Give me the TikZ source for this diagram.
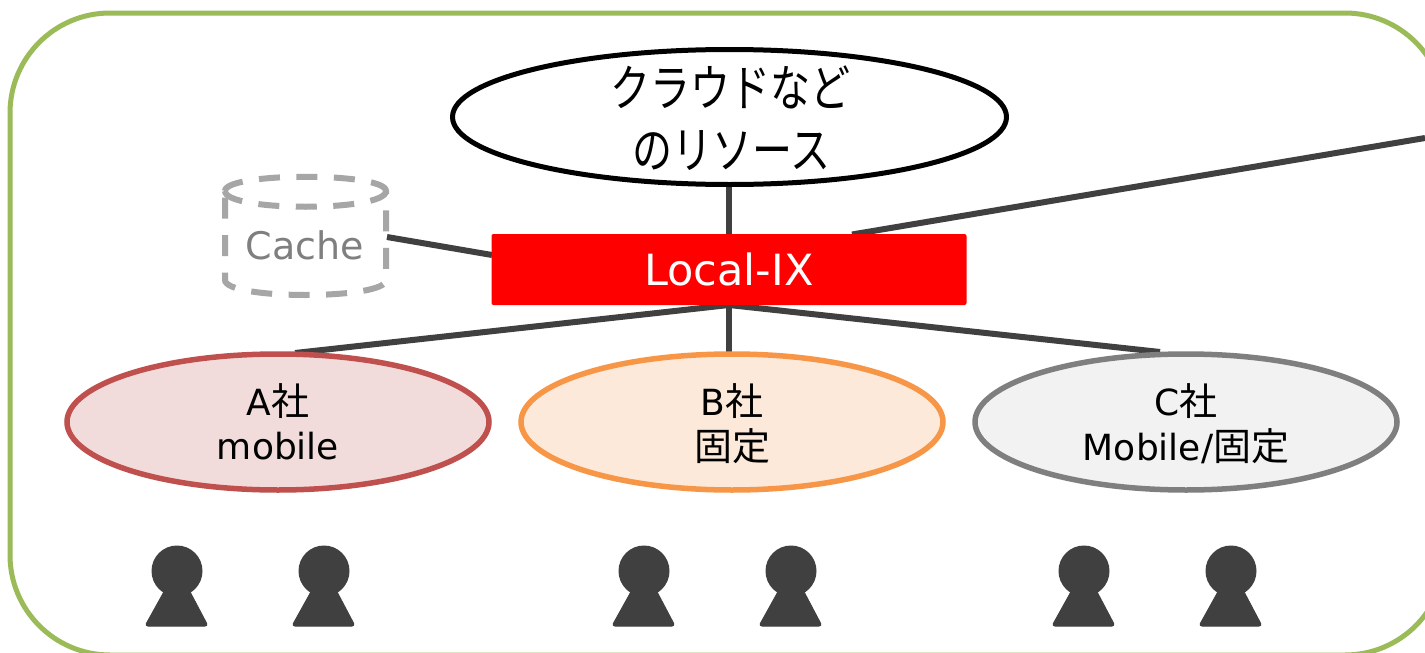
\documentclass[tikz,border=0pt]{standalone}
\usepackage{fontspec}
\setmainfont{DejaVu Sans}
\newfontfamily\jpfont{Noto Sans CJK JP}
\definecolor{frameg}{HTML}{9BBB59}
\definecolor{linedk}{HTML}{404040}
\definecolor{aedge}{HTML}{C0504D}
\definecolor{afill}{HTML}{F2DCDB}
\definecolor{bedge}{HTML}{F79646}
\definecolor{bfill}{HTML}{FDE9D9}
\definecolor{cedge}{HTML}{7F7F7F}
\definecolor{cfill}{HTML}{F2F2F2}
\definecolor{cachee}{HTML}{A6A6A6}
\tikzset{
  px/.style={x=1pt,y=-1pt},
  conn/.style={draw=linedk,line width=6pt},
  company/.style={ellipse,minimum width=422pt,minimum height=136pt,line width=5.5pt,inner sep=0pt},
  companytxt/.style={inner sep=0pt,font=\fontsize{36}{45}\selectfont},
  cloudtxt/.style={inner sep=0pt,xscale=.8,transform shape,font=\jpfont\fontsize{50}{60}\selectfont},
  cachedash/.style={cachee,line width=6pt,dash pattern=on 21pt off 16.5pt},
  headp/.style={fill=linedk},
  bodyp/.style={fill=linedk,draw=linedk,line width=1pt,rounded corners=3pt},
}
\usetikzlibrary{shapes.geometric}
\newcommand{\person}[1]{%
  \fill[headp] (#1,571) circle[radius=25.5];
  \path[bodyp] (#1-12,590) -- (#1+12,590) -- (#1+31,626) -- (#1-32,626) -- cycle;
}
\newcommand{\jpb}[1]{{\jpfont\fontsize{38}{45}\selectfont #1}}
\begin{document}
\begin{tikzpicture}[px]
\useasboundingbox (0,0) rectangle (1425,653);
\clip (0,0) rectangle (1425,653);
\fill[white] (0,0) rectangle (1425,653);
\draw[frameg,line width=5pt,rounded corners=100pt] (10,13) rectangle (1445,655);

\coordinate (aend) at (295,353);
\coordinate (bend) at (729,353);
\coordinate (cend) at (1160,352);
\coordinate (ext) at (1425,138);
\coordinate (lixr) at (852,234.5);
\coordinate (lixl) at (492,255);
\coordinate (cacher) at (387,237);
\coordinate (lixs) at (729,305);
\coordinate (lixn) at (729,234);
\coordinate (clouds) at (729,184);

\draw[conn] (clouds) -- (lixn);
\draw[conn] (ext) -- (lixr);
\draw[conn] (cacher) -- (lixl);
\draw[conn] (lixs) -- (aend);
\draw[conn] (lixs) -- (bend);
\draw[conn] (lixs) -- (cend);

\node[draw=black,fill=white,ellipse,line width=5pt,minimum width=554pt,minimum height=135pt,inner sep=0pt] (cloud) at (729.5,117) {};
\node[cloudtxt] (cloudone) at (730,87) {クラウドなど};
\node[cloudtxt] (cloudtwo) at (731,151) {のリソース};

\node[fill=red,rounded corners=2pt,minimum width=475pt,minimum height=71pt,inner sep=0pt,text=white,font=\fontsize{43}{50}\selectfont] (lix) at (729,269.5) {Local-IX};

\node[company,draw=aedge,fill=afill] (a) at (278,422) {};
\node[company,draw=bedge,fill=bfill] (b) at (732,422) {};
\node[company,draw=cedge,fill=cfill] (c) at (1186,422) {};
\node[companytxt] (aone) at (278,401) {A\jpb{社}};
\node[companytxt] (atwo) at (278,446) {mobile};
\node[companytxt] (bone) at (732,401) {B\jpb{社}};
\node[companytxt] (btwo) at (732,446) {\jpb{固定}};
\node[companytxt] (cone) at (1186,401) {C\jpb{社}};
\node[companytxt] (ctwo) at (1186,446) {Mobile/\jpb{固定}};

% cache cylinder
\draw[cachedash]
  (225,191) .. controls (225,172) and (386,172) .. (386,191)
  -- (386,280) .. controls (386,300) and (225,300) .. (225,280) -- cycle;
\draw[cachedash]
  (225,191) .. controls (225,212) and (386,212) .. (386,191);
\node[inner sep=0pt,text=cedge,font=\fontsize{38}{45}\selectfont] (cache) at (305,245) {Cache};

\person{177}
\person{324}
\person{644}
\person{791}
\person{1084}
\person{1231}
\end{tikzpicture}
\end{document}
